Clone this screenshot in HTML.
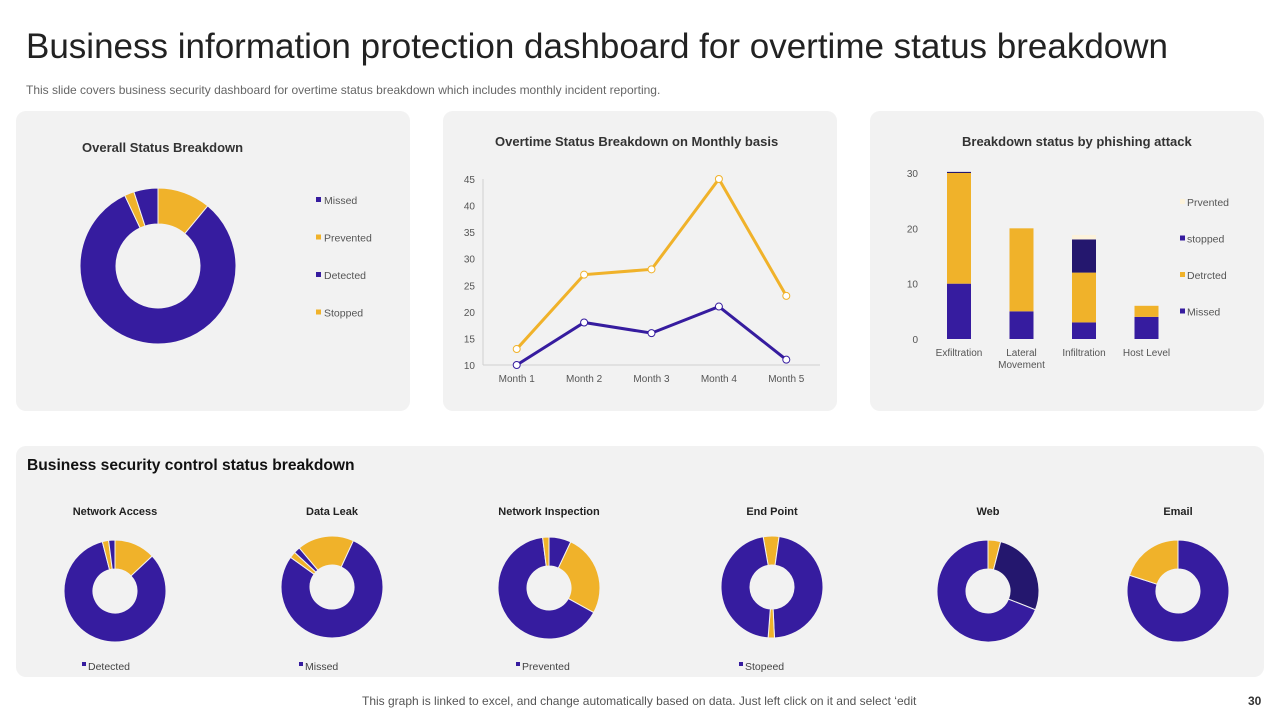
<!DOCTYPE html>
<html><head><meta charset="utf-8">
<style>
*{margin:0;padding:0;box-sizing:border-box}
body{width:1280px;height:720px;background:#fff;font-family:"Liberation Sans",sans-serif;position:relative;overflow:hidden;color:#333}
.panel{position:absolute;background:#f2f2f2;border-radius:10px}
.t{position:absolute;white-space:nowrap}
svg{position:absolute;left:0;top:0}
</style></head><body>
<div class="t" style="left:26px;top:27px;font-size:35px;color:#222">Business information protection dashboard for overtime status breakdown</div>
<div class="t" style="left:26px;top:83px;font-size:12px;color:#666">This slide covers business security dashboard for overtime status breakdown which includes monthly incident reporting.</div>
<div class="panel" style="left:16px;top:111px;width:394px;height:300px"></div>
<div class="panel" style="left:443px;top:111px;width:394px;height:300px"></div>
<div class="panel" style="left:870px;top:111px;width:394px;height:300px"></div>
<div class="panel" style="left:16px;top:446px;width:1248px;height:231px"></div>
<div class="t" style="left:82px;top:140px;font-size:13px;font-weight:bold">Overall Status Breakdown</div>
<div class="t" style="left:495px;top:134px;font-size:13px;font-weight:bold">Overtime Status Breakdown on Monthly basis</div>
<div class="t" style="left:962px;top:134px;font-size:13px;font-weight:bold">Breakdown status by phishing attack</div>
<div class="t" style="left:27px;top:457px;font-size:15.6px;font-weight:bold;color:#111">Business security control status breakdown</div>
<div class="t" style="left:362px;top:694px;font-size:12px;color:#555">This graph is linked to excel, and change automatically based on data. Just left click on it and select ‘edit</div>
<div class="t" style="left:1248px;top:694px;font-size:12px;color:#333;font-weight:bold">30</div>
<svg id="s" width="1280" height="720"></svg>
<script>
const P='#361c9f',Y='#f0b22a',D='#24176e',C='#fdf3dc';
// overall donut
const overallValues=[11,82,2,5];
const overallColors=[Y,P,Y,P];
// line chart
const months=['Month 1','Month 2','Month 3','Month 4','Month 5'];
const seriesYellow=[13,27,28,45,23];
const seriesPurple=[10,18,16,21,11];
const lineTicks=[10,15,20,25,30,35,40,45];
// bar chart
const barCats=[['Exfiltration'],['Lateral','Movement'],['Infiltration'],['Host Level']];
const missed=[10,5,3,4];
const detected=[20,15,9,2];
const stopped=[0.2,0,6,0];
const prevented=[0,0,0.8,0];
const barTicks=[0,10,20,30];
// small donuts
const smallNames=['Network Access','Data Leak','Network Inspection','End Point','Web','Email'];
const smallValues=[[13,83,2,2],[18,78,2,2],[7,26,65,2],[5,47,2,46],[4,27,69],[80,20]];
const smallColors=[[Y,P,Y,P],[Y,P,Y,P],[P,Y,P,Y],[Y,P,Y,P],[Y,D,P],[P,Y]];
const smallStart=[0,-40,0,-10,0,0];
const smallLegend=['Detected','Missed','Prevented','Stopeed','',''];

const s=document.getElementById('s');const NS='http://www.w3.org/2000/svg';
function el(t,a,txt){const e=document.createElementNS(NS,t);for(const k in a)e.setAttribute(k,a[k]);if(txt!==undefined)e.textContent=txt;s.appendChild(e);return e;}
function donut(cx,cy,R,r,vals,cols,start,name){
  const tot=vals.reduce((a,b)=>a+b,0);let a=start*Math.PI/180;
  vals.forEach((v,i)=>{const b=a+v/tot*2*Math.PI;const L=(b-a)>Math.PI?1:0;
    const p=(rr,t)=>[cx+rr*Math.sin(t),cy-rr*Math.cos(t)];
    const [x1,y1]=p(R,a),[x2,y2]=p(R,b),[x3,y3]=p(r,b),[x4,y4]=p(r,a);
    const e=el('path',{d:`M${x1},${y1}A${R},${R} 0 ${L} 1 ${x2},${y2}L${x3},${y3}A${r},${r} 0 ${L} 0 ${x4},${y4}Z`,fill:cols[i],stroke:'#f2f2f2','stroke-width':1});
    
    
    a=b;});
}
donut(158,266,78,42,overallValues,overallColors,0,'overall-donut');
['Missed','Prevented','Detected','Stopped'].forEach((n,i)=>{const y=200+i*37.5;
  const r=el('rect',{x:316,y:y-3,width:5,height:5,fill:i%2?Y:P});
  
  
  const t=el('text',{x:324,y:y+4,'font-size':10.5,fill:'#555'},n);
  
  });
// line chart
const lx0=483,lx1=820,ly0=365,ly1=179;
const xs=i=>lx0+(lx1-lx0)/5*(i+0.5);
const ys=v=>ly0-(v-10)/35*(ly0-ly1);
el('line',{x1:lx0,y1:ly1,x2:lx0,y2:ly0,stroke:'#d0d0d0'});
el('line',{x1:lx0,y1:ly0,x2:lx1,y2:ly0,stroke:'#d0d0d0'});
lineTicks.forEach(v=>{const t=el('text',{x:lx0-8,y:ys(v)+4,'font-size':10,fill:'#555','text-anchor':'end'},v);
  
  });
months.forEach((m,i)=>{const t=el('text',{x:xs(i),y:382,'font-size':10,fill:'#555','text-anchor':'middle'},m);
  
  });
[[seriesYellow,Y,'yellow'],[seriesPurple,P,'purple']].forEach(([d,c,n])=>{
  const pl=el('polyline',{points:d.map((v,i)=>xs(i)+','+ys(v)).join(' '),fill:'none',stroke:c,'stroke-width':3});
  
  
  d.forEach((v,i)=>{const ci=el('circle',{cx:xs(i),cy:ys(v),r:3.5,fill:'#fff',stroke:c,'stroke-width':1});
    
    });
});
// bar chart
const by0=339,by1=173;const bys=v=>by0-v/30*(by0-by1);
const bx=i=>959+i*62.5;
barTicks.forEach(v=>{const t=el('text',{x:918,y:bys(v)+4,'font-size':10,fill:'#555','text-anchor':'end'},v);
  
  });
barCats.forEach((c,i)=>{let acc=0;
  [[missed,P],[detected,Y],[stopped,D],[prevented,C]].forEach(([arr,col])=>{const v=arr[i];if(v>0){
    const r=el('rect',{x:bx(i)-12,y:bys(acc+v),width:24,height:bys(acc)-bys(acc+v),fill:col});
    
    }acc+=v;});
  c.forEach((l,j)=>{const t=el('text',{x:bx(i),y:356+j*12,'font-size':10,fill:'#555','text-anchor':'middle'},l);
    
    });
});
[['Prvented',C],['stopped',P],['Detrcted',Y],['Missed',P]].forEach(([n,c],i)=>{const y=202+i*36.5;
  const r=el('rect',{x:1180,y:y-3,width:5,height:5,fill:c});
  
  
  const t=el('text',{x:1187,y:y+4,'font-size':10.5,fill:'#555'},n);
  
  });
// small donuts
const scx=[115,332,549,772,988,1178],scy=[591,587,588,587,591,591];
smallNames.forEach((n,i)=>{
  const t=el('text',{x:scx[i],y:515,'font-size':11,fill:'#222','text-anchor':'middle','font-weight':'bold'},n);
  
  
  donut(scx[i],scy[i],51,22,smallValues[i],smallColors[i],smallStart[i],'control-donut-'+i);
  if(smallLegend[i]){const lx=scx[i]-33;
    const r=el('rect',{x:lx,y:662,width:4,height:4,fill:P});
    
    
    const tt=el('text',{x:lx+6,y:670,'font-size':10.5,fill:'#444'},smallLegend[i]);
    
    }
});
</script>
</body></html>
